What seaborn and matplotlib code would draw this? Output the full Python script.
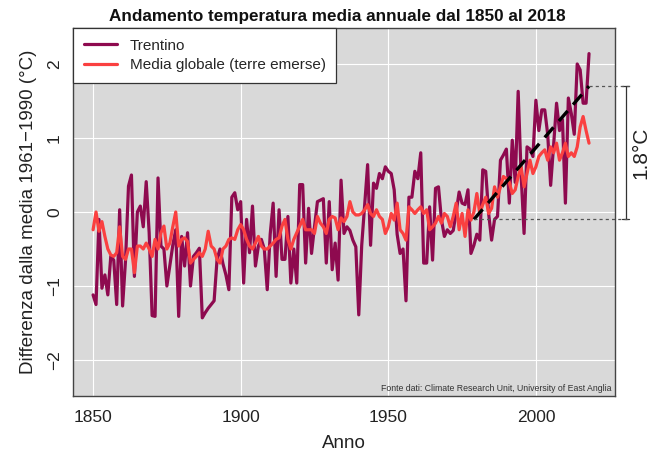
import matplotlib
matplotlib.use("Agg")
import matplotlib.pyplot as plt
import numpy as np
import pandas as pd
import seaborn as sns

# Annual temperature anomalies relative to 1961-1990 (°C)
years = list(range(1850, 2019))

trentino = [
    -1.12, -1.25, -0.10, -1.03, -0.85, -1.12, -0.60, -0.65, -1.25, 0.03,
    -1.27, -0.65, 0.35, 0.50, -0.87, 0.00, 0.08, -0.20, 0.41, -0.28,
    -1.40, -1.41, 0.46, -0.46, -0.50, -1.00, -0.73, -0.45, -0.24, -1.41,
    -0.33, -0.73, -0.28, -1.00, -0.60, -0.55, -0.49, -1.43, -1.36, -1.30,
    -1.25, -1.20, -0.64, -0.50, -0.70, -0.85, -1.05, 0.20, 0.26, 0.03,
    0.14, -0.96, -0.10, -0.55, 0.08, -0.73, -0.46, -0.37, -0.50, -1.05,
    -0.30, 0.12, -0.87, 0.03, -0.64, -0.64, -0.06, -0.96, -0.50, -0.96,
    0.37, 0.37, -0.69, 0.05, -0.56, -0.20, 0.14, 0.16, 0.18, -0.69,
    0.14, -0.78, -0.42, -0.92, 0.43, -0.29, -0.20, -0.25, -0.38, -0.47,
    -1.39, -0.45, 0.10, 0.64, -0.45, 0.39, 0.32, 0.52, 0.45, 0.61,
    0.55, 0.52, 0.30, -0.30, -0.56, -0.50, -1.20, 0.20, 0.20, 0.55,
    0.45, 0.80, -0.69, -0.69, 0.07, -0.65, 0.32, 0.34, -0.10, -0.33,
    -0.24, -0.29, -0.25, 0.00, 0.27, 0.12, 0.10, 0.30, -0.56, -0.45,
    -0.30, -0.38, 0.57, 0.55, -0.02, -0.38, -0.10, -0.06, 0.70, 0.77,
    0.85, 0.12, 0.97, 0.40, 1.63, 0.50, -0.29, 0.88, 0.85, 0.75,
    1.51, 1.10, 1.38, 1.38, 1.05, 0.36, 0.90, 1.47, 1.10, 1.25,
    0.12, 1.54, 1.33, 1.05, 2.00, 1.92, 1.47, 1.47, 2.14,
]

globale = [
    -0.24, 0.00, -0.26, -0.13, -0.33, -0.50, -0.58, -0.60, -0.55, -0.20,
    -0.60, -0.64, -0.50, -0.50, -0.82, -0.46, -0.46, -0.50, -0.42, -0.50,
    -0.60, -0.37, -0.50, -0.28, -0.19, -0.50, -0.42, -0.20, 0.00, -0.46,
    -0.37, -0.35, -0.40, -0.69, -0.64, -0.60, -0.55, -0.60, -0.50, -0.26,
    -0.46, -0.50, -0.64, -0.69, -0.50, -0.46, -0.37, -0.35, -0.37, -0.24,
    -0.17, -0.24, -0.37, -0.46, -0.50, -0.42, -0.33, -0.46, -0.50, -0.50,
    -0.46, -0.42, -0.37, -0.35, -0.19, -0.10, -0.37, -0.50, -0.37, -0.28,
    -0.19, -0.10, -0.24, -0.24, -0.24, -0.29, -0.06, -0.15, -0.20, -0.29,
    -0.10, -0.06, -0.08, -0.24, -0.08, -0.13, -0.06, 0.14, 0.00, -0.04,
    -0.04, -0.02, 0.03, 0.10, -0.02, -0.06, 0.03, -0.06, -0.10, -0.29,
    -0.20, -0.02, -0.11, 0.12, -0.24, -0.29, -0.38, 0.07, 0.03, -0.02,
    0.03, 0.07, -0.02, 0.03, -0.24, -0.20, -0.15, -0.06, -0.15, -0.02,
    -0.06, -0.20, -0.06, 0.12, -0.24, -0.02, -0.33, 0.03, -0.11, 0.00,
    0.25, -0.02, 0.10, 0.20, -0.02, 0.05, 0.34, 0.20, 0.34, 0.48,
    0.45, 0.40, 0.25, 0.30, 0.48, 0.61, 0.34, 0.52, 0.70, 0.52,
    0.61, 0.75, 0.80, 0.84, 0.70, 0.88, 0.80, 0.93, 0.70, 0.80,
    0.93, 0.75, 0.80, 0.75, 0.88, 1.15, 1.29, 1.10, 0.93,
]

# Linear warming trend in Trentino since 1979
trend_years = [1979, 2018]
trend_values = [-0.1, 1.7]
delta_label = "1.8°C"

series_labels = ["Trentino", "Media globale (terre emerse)"]
x_ticks = [1850, 1900, 1950, 2000]
y_ticks = [-2, -1, 0, 1, 2]

sns.set_style("white")
plt.rcParams["font.family"] = ["Liberation Sans", "DejaVu Sans"]

col_trentino = "#8E0A4F"
col_globale = "#FA4040"
bg = "#D9D9D9"

fig = plt.figure(figsize=(6.52, 4.57), dpi=100)
ax = fig.add_axes([73 / 652, 1 - 396 / 457, (615 - 73) / 652, (396 - 28) / 457])
ax.set_facecolor(bg)

df = pd.DataFrame({"Anno": years, "Trentino": trentino, "Globale": globale})

# grid
for xt in x_ticks:
    ax.axvline(xt, color="white", lw=0.8, zorder=0.5)
for yt in y_ticks:
    ax.axhline(yt, color="white", lw=0.8, zorder=0.5)

sns.lineplot(data=df, x="Anno", y="Trentino", ax=ax, color=col_trentino,
             lw=2.3, label=series_labels[0], zorder=2)
sns.lineplot(data=df, x="Anno", y="Globale", ax=ax, color=col_globale,
             lw=2.3, label=series_labels[1], zorder=3)
sns.lineplot(x=trend_years, y=trend_values, ax=ax, color="black", lw=2.4,
             linestyle=(0, (4, 2.5)), zorder=4)

ax.set_xlim(1843.2, 2026.8)
ax.set_ylim(-2.486, 2.486)

# bracket showing the warming since 1979
x_end = 2031.8
dot = dict(color="#555555", lw=0.9, linestyle=(0, (2.5, 2.5)), clip_on=False, zorder=5)
ax.plot([trend_years[1], x_end], [trend_values[1]] * 2, **dot)
ax.plot([trend_years[0], x_end], [trend_values[0]] * 2, **dot)
bx = 2030.4
ax.plot([bx, bx], trend_values, color="#333333", lw=0.9, clip_on=False)
for yv in trend_values:
    ax.plot([bx - 1.3, bx + 1.3], [yv, yv], color="#333333", lw=0.9, clip_on=False)
ax.text(2035.6, sum(trend_values) / 2, delta_label, rotation=90, ha="center",
        va="center", fontsize=15, color="#222222", clip_on=False)

ax.text(2025.6, -2.38, "Fonte dati: Climate Research Unit, University of East Anglia",
        ha="right", va="center", fontsize=6.3, color="#333333")

ax.set_xticks(x_ticks)
ax.set_yticks(y_ticks)
ax.set_yticklabels(["\u22122", "\u22121", "0", "1", "2"], rotation=90, va="center")
ax.tick_params(axis="both", direction="out", length=4, width=0.8, color="#555555",
               labelsize=12.5, labelcolor="#222222", pad=6)
ax.tick_params(axis="y", pad=4)

for sp in ax.spines.values():
    sp.set_visible(True)
    sp.set_color("#444444")
    sp.set_linewidth(1.0)

ax.set_xlabel("Anno", fontsize=13.5, color="#222222", labelpad=7)
ax.set_ylabel("Differenza dalla media 1961\u22121990 (°C)", fontsize=13.5,
              color="#222222", labelpad=7)

leg = ax.legend(loc="upper left", borderaxespad=0, frameon=True, fancybox=False,
                edgecolor="#333333", framealpha=1, fontsize=11, handlelength=2.2,
                borderpad=0.7, labelspacing=0.35, handletextpad=0.8)
leg.get_frame().set_linewidth(0.9)
leg.set_zorder(10)

fig.text(0.517, 1 - 17 / 457, "Andamento temperatura media annuale dal 1850 al 2018",
         ha="center", va="center", fontsize=12.3, fontweight="bold", color="#111111")

fig.savefig("out.png", dpi=100, facecolor="white")
